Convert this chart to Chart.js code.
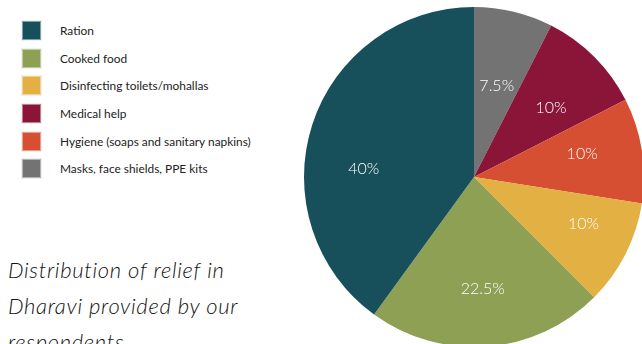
<!DOCTYPE html>
<html>
<head>
<meta charset="utf-8">
<script src="https://cdn.jsdelivr.net/npm/chart.js@4"></script>
<style>
    html, body {
        margin: 0;
        padding: 0;
        width: 642px;
        height: 344px;
        overflow: hidden;
        background: #ffffff;
    }
    #legend {
        position: absolute;
        left: 22px;
        top: 17px;
        margin: 0;
        padding: 0;
        list-style: none;
        font-family: Lato, 'Open Sans', sans-serif;
        font-size: 11.9px;
        color: #222222;
    }
    #legend li {
        display: flex;
        align-items: center;
        height: 27.6px;
    }
    #legend .swatch {
        width: 19px;
        height: 19px;
        margin-right: 19px;
        box-sizing: border-box;
        border: 1px solid rgba(255, 255, 255, 0.45);
        box-shadow: 0 0 0 1px rgba(0, 0, 0, 0.06);
    }
    #title {
        position: absolute;
        left: 8px;
        top: 252px;
        width: 290px;
        font-family: Lato, 'Open Sans', sans-serif;
        font-style: italic;
        font-weight: 300;
        font-size: 22px;
        line-height: 36px;
        letter-spacing: 0.7px;
        color: #111111;
    }
    #chartBox {
        position: absolute;
        left: 304px;
        top: 7px;
        width: 340px;
        height: 340px;
    }
</style>
</head>
<body>
<ul id="legend"></ul>
<div id="title">Distribution of relief in Dharavi provided by our respondents</div>
<div id="chartBox"><canvas id="reliefPie"></canvas></div>

<script>
    // Legend order
    const categories = [
        'Ration',
        'Cooked food',
        'Disinfecting toilets/mohallas',
        'Medical help',
        'Hygiene (soaps and sanitary napkins)',
        'Masks, face shields, PPE kits',
    ];
    const shares = [40, 22.5, 10, 10, 10, 7.5];
    const colors = ['#17505a', '#8ea053', '#e2b043', '#8a1538', '#d74f32', '#737373'];

    // Clockwise order of the slices, starting at 12 o'clock
    const sliceOrder = [5, 3, 4, 2, 1, 0];

    function buildLegend() {
        const list = document.getElementById('legend');
        categories.forEach((name, i) => {
            const li = document.createElement('li');
            const sw = document.createElement('span');
            sw.className = 'swatch';
            sw.style.background = colors[i];
            const txt = document.createElement('span');
            txt.textContent = name;
            li.appendChild(sw);
            li.appendChild(txt);
            list.appendChild(li);
        });
    }

    // Percent labels inside each slice
    const sliceLabels = {
        id: 'sliceLabels',
        afterDatasetsDraw(chart, args, opts) {
            const ctx = chart.ctx;
            const meta = chart.getDatasetMeta(0);
            const values = chart.data.datasets[0].data;
            ctx.save();
            ctx.fillStyle = '#ffffff';
            ctx.font = '300 16px Lato, sans-serif';
            ctx.textAlign = 'center';
            ctx.textBaseline = 'middle';
            meta.data.forEach((arc, i) => {
                const p = arc.getProps(['x', 'y', 'startAngle', 'endAngle', 'outerRadius'], true);
                const angle = (p.startAngle + p.endAngle) / 2 + (opts.turn[i] || 0);
                const r = p.outerRadius * opts.ratio[i];
                const tx = p.x + Math.cos(angle) * r;
                const ty = p.y + Math.sin(angle) * r;
                ctx.fillText(values[i] + '%', tx, ty);
            });
            ctx.restore();
        },
    };

    function init() {
        buildLegend();
        const ctx = document.getElementById('reliefPie').getContext('2d');
        new Chart(ctx, {
            type: 'pie',
            data: {
                labels: sliceOrder.map((i) => categories[i]),
                datasets: [
                    {
                        data: sliceOrder.map((i) => shares[i]),
                        backgroundColor: sliceOrder.map((i) => colors[i]),
                        borderWidth: 0,
                    },
                ],
            },
            options: {
                responsive: true,
                maintainAspectRatio: false,
                animation: false,
                layout: { padding: 0 },
                plugins: {
                    legend: { display: false },
                    tooltip: { enabled: false },
                    sliceLabels: {
                        // distance from centre as a fraction of the radius
                        ratio: [0.55, 0.61, 0.65, 0.70, 0.66, 0.65],
                        // small angular nudges (radians); the big slice's label sits toward 9 o'clock
                        turn: [0.01, 0.05, -0.05, -0.07, 0, -0.24],
                    },
                },
            },
            plugins: [sliceLabels],
        });
    }

    if (document.readyState === 'loading') {
        document.addEventListener('DOMContentLoaded', init);
    } else {
        init();
    }
</script>
</body>
</html>
